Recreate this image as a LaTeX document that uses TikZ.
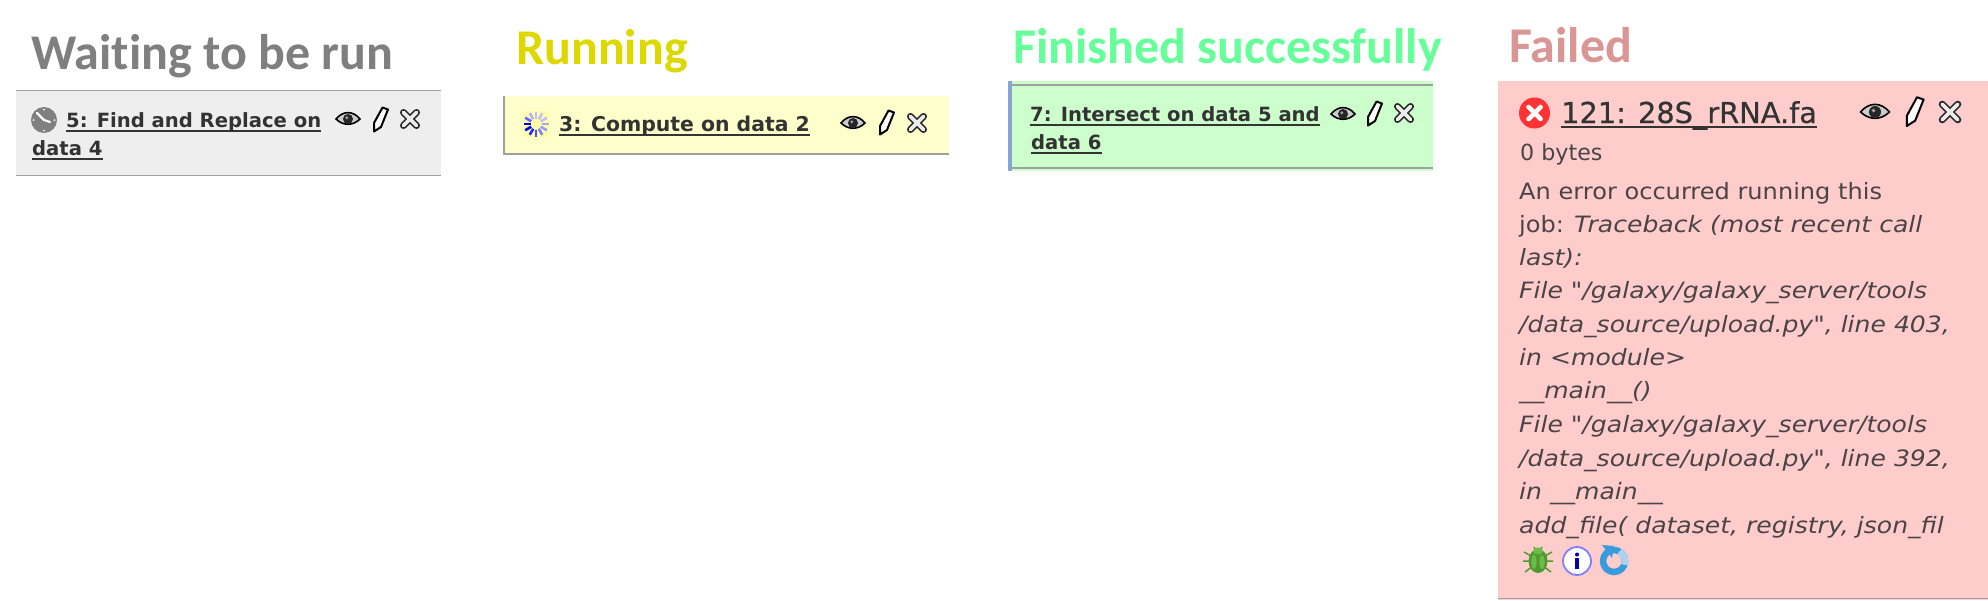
\documentclass[tikz,border=0pt]{standalone}
\usepackage{fontspec}
\usetikzlibrary{calc}
\newfontfamily\titlefont[Ligatures=NoCommon]{Carlito}
\newfontfamily\uifont{DejaVu Sans}
\newfontfamily\headfont[FakeBold=0.6]{DejaVu Sans}
\newfontfamily\errfont[FakeStretch=1.07]{DejaVu Sans}
\newfontfamily\erritfont[FakeStretch=1.115]{DejaVu Sans}
\definecolor{uigray}{HTML}{EEEEEE}
\definecolor{uiyellow}{HTML}{FFFFCC}
\definecolor{uigreen}{HTML}{CCFFCC}
\definecolor{uired}{HTML}{FFCCCC}
\definecolor{linegray}{HTML}{A0A0A0}
\definecolor{uitext}{HTML}{333333}
\definecolor{errtext}{HTML}{4A4446}
\definecolor{ttgray}{HTML}{7F7F7F}
\definecolor{ttyellow}{HTML}{DDD800}
\definecolor{ttgreen}{HTML}{66FF99}
\definecolor{ttred}{HTML}{D99694}
\definecolor{FFA}{HTML}{FFFFAA}
\definecolor{bugdark}{HTML}{4E9A2E}
\definecolor{buglight}{HTML}{6DBB4A}
\definecolor{refblue}{HTML}{3A9BDC}
\definecolor{refpale}{HTML}{A9D3EE}
\definecolor{sidebar}{HTML}{88A4D4}
\tikzset{
  titletext/.style={inner sep=0pt,anchor=base west,font=\titlefont\bfseries\fontsize{50}{50}\selectfont},
  joblabel/.style={inner sep=0pt,anchor=base west,text=uitext,font=\uifont\bfseries\fontsize{19.6}{22}\selectfont},
  joblabelbig/.style={joblabel,font=\uifont\bfseries\fontsize{20.4}{22}\selectfont},
  errlabel/.style={inner sep=0pt,anchor=base west,text=errtext,font=\errfont\fontsize{22.5}{26}\selectfont},
  errsmall/.style={errlabel,font=\uifont\fontsize{22.2}{26}\selectfont},
  errhead/.style={inner sep=0pt,anchor=base west,text=uitext,font=\headfont\fontsize{28.8}{30}\selectfont},
  errital/.style={errlabel,font=\erritfont\itshape\fontsize{22.5}{26}\selectfont},
  ruleline/.style={draw=linegray,line width=1.6pt},
  underl/.style={draw=uitext,line width=1.4pt},
  eyeicon/.pic={
    \draw[black,line width=1.6pt,fill=white!80!black] (-12,0) .. controls (-5,-8.5) and (5,-8.5) .. (12,0) .. controls (5,7) and (-5,7) .. (-12,0) -- cycle;
    \fill[black!85] (0,0) circle (5);
    \fill[black!35] (-1.2,-1.2) circle (1.6);
  },
  pencilicon/.pic={
    \draw[black,line width=2pt,line join=round,fill=white] (2.5,-11.5) -- (8,-9.5) -- (1,8) -- (-6,12.5) -- (-6,4) -- cycle;
  },
  crossicon/.pic={
    \draw[black!85,line width=7pt,line cap=round] (-6.5,-6.5) -- (6.5,6.5) (-6.5,6.5) -- (6.5,-6.5);
    \draw[white!92!black,line width=3.6pt,line cap=round] (-6.5,-6.5) -- (6.5,6.5) (-6.5,6.5) -- (6.5,-6.5);
  },
  spinner/.pic={
    \fill[FFA] (-13,-13) rectangle (13,13);
    \foreach \a/\c in {180/100,150/100,120/85,90/70,60/50,30/40,0/35,330/25,300/25,270/25,240/30,210/60}{
      \draw[blue!\c!white,line width=2.6pt] (\a:5.5) -- (\a:12.5);
    }
  },
  clockicon/.pic={
    \fill[black!50] (0,0) circle (13);
    \foreach \a in {0,90,180,270} \fill[white] (\a:10.5) circle (1);
    \draw[white,line width=2.2pt,line cap=round] (-7,-7) -- (0,0) -- (6,2);
  },
  erricon/.pic={
    \fill[red!80!white] (0,0) circle (15.5);
    \draw[white,line width=4.6pt,line cap=round] (-6,-6) -- (6,6) (-6,6) -- (6,-6);
  },
  bugicon/.pic={
    \draw[bugdark,line width=1.5pt] (-14,-8) -- (-5,-3) (14,-8) -- (5,-3) (-15,1) -- (5,1) (15,1) -- (-5,1) (-13,12) -- (-5,6) (13,12) -- (5,6) (-4,-13) -- (-2,-9) (4,-13) -- (2,-9);
    \fill[bugdark] (0,1) ellipse (9.5 and 12);
    \fill[buglight] (0,-9) ellipse (5 and 3.5);
    \fill[buglight] (-4,2) ellipse (2.6 and 7);
    \fill[buglight] (4,2) ellipse (2.6 and 7);
  },
  infoicon/.pic={
    \draw[blue!50!white,line width=1.8pt,fill=white] (0,0) circle (14);
    \fill[blue!70!black] (0,-6.5) circle (2);
    \fill[blue!70!black] (-1.8,-3) rectangle (1.8,8);
  },
  refreshicon/.pic={
    \draw[refblue,line width=6.5pt] (0,0) circle (11);
    \draw[refpale,line width=6.5pt] (-60:11) arc (-60:20:11);
    \fill[refblue] (-12,-16) -- (0,-15) -- (-2,-3) -- cycle;
  },
}
% \ulab{node name}{x}{y}{style}{text}: a label with its underline
\newcommand{\ulab}[5]{%
  \node[#4] (#1) at (#2,#3) {#5};
  \draw[underl] ($(#1.base west)+(0,4)$) -- ($(#1.base east)+(0,4)$);
}
\begin{document}
\begin{tikzpicture}[x=1pt,y=-1pt]
\useasboundingbox (0,0) rectangle (1988,600);
\fill[white] (0,0) rectangle (1988,600);

% titles
\node[titletext,text=ttgray] (t1) at (31,69) {Waiting to be run};
\node[titletext,text=ttyellow] (t2) at (516,64) {Running};
\node[titletext,text=ttgreen] (t3) at (1013,63) {Finished successfully};
\node[titletext,text=ttred] (t4) at (1509,62) {Failed};

% waiting panel
\fill[uigray] (16,90) rectangle (441,176);
\draw[ruleline] (16,90.5) -- (441,90.5) (16,175.5) -- (441,175.5);
\pic at (44,120) {clockicon};
\ulab{w1}{66}{127}{joblabel}{5: Find and Replace on}
\ulab{w2}{32}{155}{joblabel}{data 4}
\pic at (348,119) {eyeicon};
\pic at (380,119) {pencilicon};
\pic at (410,119) {crossicon};

% running panel
\fill[uiyellow] (503,96) rectangle (949,155);
\draw[ruleline] (504,96) -- (504,155) (503,154) -- (949,154);
\pic at (536,124) {spinner};
\ulab{r1}{559}{131}{joblabelbig}{3: Compute on data 2}
\pic at (853,123) {eyeicon};
\pic at (886,122) {pencilicon};
\pic at (917,123) {crossicon};

% finished panel
\fill[uigreen] (1008,81) rectangle (1433,171);
\draw[ruleline] (1010,85) -- (1433,85) (1010,168) -- (1433,168);
\fill[sidebar] (1008,81) rectangle (1012,171);
\ulab{f1}{1030}{121}{joblabel}{7: Intersect on data 5 and}
\ulab{f2}{1031}{149}{joblabel}{data 6}
\pic at (1343,114) {eyeicon};
\pic at (1374,113) {pencilicon};
\pic at (1404,113) {crossicon};

% failed panel
\fill[uired] (1498,81) rectangle (1988,600);
\draw[ruleline] (1498,598.5) -- (1988,598.5);
\pic at (1534.5,113) {erricon};
\ulab{e0}{1561}{123}{errhead}{121: 28S\_rRNA.fa}
\pic[scale=1.2] at (1875,112) {eyeicon};
\pic[scale=1.2] at (1914,111) {pencilicon};
\pic[scale=1.2] at (1950,112) {crossicon};
\node[errsmall] (e1) at (1520,160) {0 bytes};
\node[errlabel] (e2) at (1519,199) {An error occurred running this};
\node[errlabel] (e3) at (1519,232) {job: \erritfont\itshape Traceback (most recent call};
\node[errital] (e4) at (1519,265) {last):};
\node[errital] (e5) at (1519,298) {File "/galaxy/galaxy\_server/tools};
\node[errital] (e6) at (1519,332) {/data\_source/upload.py", line 403,};
\node[errital] (e7) at (1519,365) {in <module>};
\node[errital] (e8) at (1519,398) {\_\_main\_\_()};
\node[errital] (e9) at (1519,432) {File "/galaxy/galaxy\_server/tools};
\node[errital] (e10) at (1519,466) {/data\_source/upload.py", line 392,};
\node[errital] (e11) at (1519,499) {in \_\_main\_\_};
\node[errital] (e12) at (1519,533) {add\_file( dataset, registry, json\_fil};
\pic at (1538,560) {bugicon};
\pic at (1577,561) {infoicon};
\pic at (1614,561) {refreshicon};
\end{tikzpicture}
\end{document}
